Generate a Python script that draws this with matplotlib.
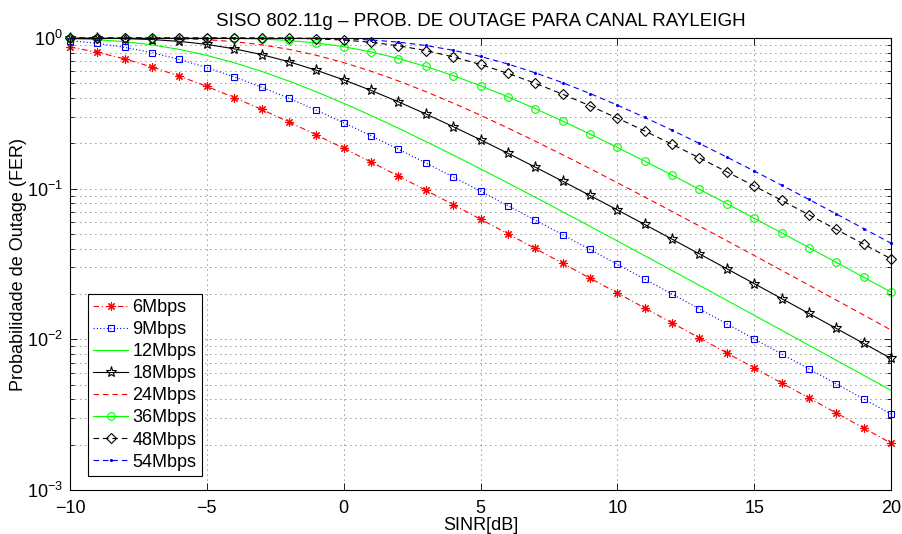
import matplotlib
matplotlib.use("Agg")
import matplotlib.pyplot as plt
from matplotlib.ticker import LogLocator, NullFormatter, MultipleLocator

plt.rcParams['font.family'] = ['Liberation Sans', 'DejaVu Sans']
plt.rcParams['mathtext.fontset'] = 'custom'
plt.rcParams['mathtext.rm'] = 'Liberation Sans'
plt.rcParams['mathtext.it'] = 'Liberation Sans'

sinr_db = list(range(-10, 21))

fer_6 = [0.871, 0.804, 0.726, 0.642, 0.558, 0.477, 0.4025, 0.336, 0.277, 0.2275,
         0.1854, 0.1503, 0.1213, 0.09764, 0.07837, 0.06277, 0.05019, 0.04008, 0.03197, 0.02548,
         0.02029, 0.01615, 0.01285, 0.01022, 0.008128, 0.006462, 0.005136, 0.004082, 0.003244, 0.002578,
         0.002048]
fer_9 = [0.9592, 0.9213, 0.8672, 0.7989, 0.7203, 0.6365, 0.5524, 0.4719, 0.3978, 0.3316,
         0.2739, 0.2245, 0.1828, 0.1482, 0.11962, 0.09624, 0.07724, 0.06186, 0.04946, 0.03948,
         0.03149, 0.02510, 0.01999, 0.01591, 0.01266, 0.01007, 0.008006, 0.006365, 0.005059, 0.004020,
         0.003195]
fer_12 = [0.98995, 0.97411, 0.94511, 0.90029, 0.8398, 0.7665, 0.6851, 0.6006, 0.5176, 0.4396,
          0.3687, 0.3061, 0.2519, 0.2059, 0.1673, 0.1354, 0.10912, 0.08769, 0.07032, 0.05627,
          0.04496, 0.03588, 0.02861, 0.02279, 0.01815, 0.01444, 0.01149, 0.009136, 0.007264, 0.005774,
          0.004589]
fer_18 = [0.99945, 0.99742, 0.99119, 0.97669, 0.94950, 0.90668, 0.84801, 0.77608, 0.69538, 0.61100,
          0.52763, 0.44885, 0.37701, 0.31332, 0.25813, 0.21114, 0.17171, 0.13899, 0.11208, 0.09010,
          0.07226, 0.05784, 0.04622, 0.03689, 0.02942, 0.02344, 0.01866, 0.01485, 0.01182, 0.009397,
          0.007472]
fer_24 = [1.0, 0.9999, 0.99934, 0.99701, 0.99013, 0.97448, 0.94573, 0.90119, 0.84094, 0.76784,
          0.68651, 0.60205, 0.51901, 0.44087, 0.36986, 0.30707, 0.25277, 0.20662, 0.16794, 0.13587,
          0.10952, 0.08802, 0.07058, 0.05648, 0.04513, 0.03602, 0.02872, 0.02288, 0.01822, 0.01450,
          0.01153]
fer_36 = [1.0, 1.0, 1.0, 0.99997, 0.99975, 0.99861, 0.99462, 0.98424, 0.96299, 0.92709,
          0.87507, 0.80837, 0.73083, 0.64742, 0.56311, 0.48199, 0.40695, 0.33967, 0.28083, 0.23037,
          0.18779, 0.15229, 0.12299, 0.09900, 0.07947, 0.06366, 0.05091, 0.04065, 0.03243, 0.02585,
          0.02058]
fer_48 = [1.0, 1.0, 1.0, 1.0, 1.0, 0.99998, 0.99984, 0.99904, 0.99598, 0.98749,
          0.96919, 0.93698, 0.88872, 0.82520, 0.74978, 0.66729, 0.58278, 0.50061, 0.42394, 0.35474,
          0.29390, 0.24151, 0.19714, 0.16005, 0.12937, 0.10421, 0.08370, 0.06708, 0.05366, 0.04286,
          0.03420]
fer_54 = [1.0, 1.0, 1.0, 1.0, 1.0, 1.0, 0.99999, 0.99986, 0.99912, 0.99626,
          0.98820, 0.97060, 0.93928, 0.89196, 0.82926, 0.75440, 0.67218, 0.58766, 0.50525, 0.42819,
          0.35853, 0.29720, 0.24433, 0.19951, 0.16202, 0.13100, 0.10553, 0.08478, 0.06795, 0.05437,
          0.04343]

labels = ['6Mbps', '9Mbps', '12Mbps', '18Mbps', '24Mbps', '36Mbps', '48Mbps', '54Mbps']

FS = 13

fig = plt.figure(figsize=(9.02, 5.34), dpi=100)
ax = fig.add_axes([70/902, 1-490/534, 821/902, 452/534])

lw = 0.8
dash = (0, (5, 3.5))
common = dict(lw=lw, clip_on=False)
ax.plot(sinr_db, fer_6, color='r', linestyle=(0, (5, 2.5, 1, 2.5)),
        marker=(8, 2, 0), markersize=6, markeredgewidth=0.8, label=labels[0], **common)
ax.plot(sinr_db, fer_9, color='b', linestyle=(0, (1, 2)),
        marker='s', markersize=5, mfc='none', markeredgewidth=0.8, label=labels[1], **common)
ax.plot(sinr_db, fer_12, color=(0, 1, 0), linestyle='-', label=labels[2], **common)
ax.plot(sinr_db, fer_18, color='k', linestyle='-',
        marker='*', markersize=8, mfc='none', markeredgewidth=0.8, label=labels[3], **common)
ax.plot(sinr_db, fer_24, color='r', linestyle=dash, label=labels[4], **common)
ax.plot(sinr_db, fer_36, color=(0, 1, 0), linestyle='-',
        marker='o', markersize=5.5, mfc='none', markeredgewidth=0.8, label=labels[5], **common)
ax.plot(sinr_db, fer_48, color='k', linestyle=dash,
        marker='D', markersize=4.8, mfc='none', markeredgewidth=0.8, label=labels[6], **common)
ax.plot(sinr_db, fer_54, color='b', linestyle=dash,
        marker='.', markersize=2.5, label=labels[7], **common)

ax.set_yscale('log')
ax.set_xlim(-10, 20)
ax.set_ylim(1e-3, 1)
ax.xaxis.set_major_locator(MultipleLocator(5))
ax.yaxis.set_major_locator(LogLocator(base=10, numticks=10))
ax.yaxis.set_minor_locator(LogLocator(base=10, subs=range(2, 10), numticks=20))
ax.yaxis.set_minor_formatter(NullFormatter())

grid_ls = (0, (1, 5))
ax.grid(True, which='major', axis='both', linestyle=grid_ls, color='#333333', lw=0.6)
ax.grid(True, which='minor', axis='y', linestyle=grid_ls, color='#333333', lw=0.6)
ax.set_axisbelow(True)

ax.tick_params(which='both', direction='in', top=True, right=True, labelsize=FS, width=0.6)
ax.tick_params(which='major', length=5)
ax.tick_params(which='minor', length=3)
ax.tick_params(axis='x', pad=7)
ax.tick_params(axis='y', pad=5)
for s in ax.spines.values():
    s.set_linewidth(0.8)

ax.set_title('SISO 802.11g \u2013 PROB. DE OUTAGE PARA CANAL RAYLEIGH', fontsize=13.5, pad=9)
ax.set_xlabel('SINR[dB]', fontsize=FS, labelpad=0)
ax.set_ylabel('Probabilidade de Outage (FER)', fontsize=FS, labelpad=0)

leg = ax.legend(loc='lower left', bbox_to_anchor=(18/821, 14/452), fontsize=FS,
                fancybox=False, framealpha=1, edgecolor='k', handlelength=1.9,
                handletextpad=0.25, borderpad=0.3, labelspacing=0.28, borderaxespad=0)
leg.get_frame().set_linewidth(0.8)

fig.savefig('out.png', dpi=100)
